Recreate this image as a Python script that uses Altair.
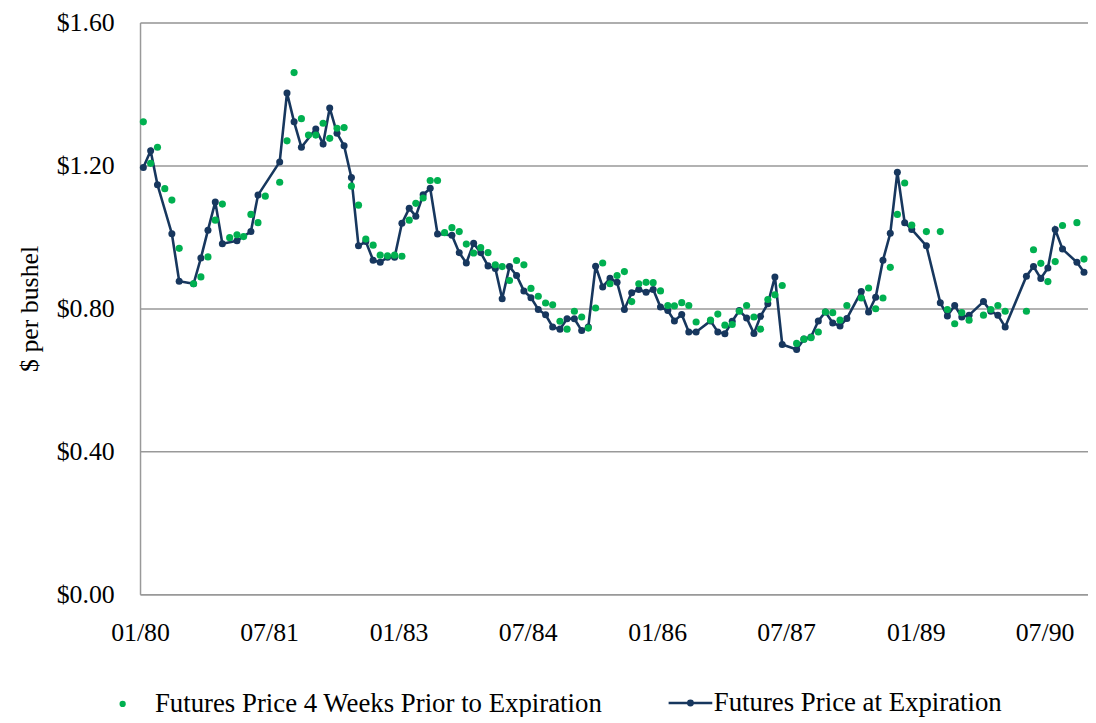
import altair as alt
import pandas as pd

# ---- data (month index: 0 = Jan 1980; each observation sits mid-month) ----
exp_label = "Futures Price at Expiration"
prior_label = "Futures Price 4 Weeks Prior to Expiration"

exp_months = [0, 1, 2, 4, 5, 7, 8, 9, 10, 11, 13, 15, 16, 19, 20, 21, 22, 24, 25, 26,
              27, 28, 29, 30, 31, 32, 33, 34, 35, 36, 37, 38, 39, 40, 41, 43, 44, 45, 46, 47,
              48, 49, 50, 51, 52, 53, 54, 55, 56, 57, 58, 59, 60, 61, 62, 63, 64, 65, 66, 67,
              68, 69, 70, 71, 72, 73, 74, 75, 76, 77, 79, 80, 81, 82, 83, 84, 85, 86, 87, 88,
              89, 91, 92, 93, 94, 95, 96, 97, 98, 100, 101, 102, 103, 104, 105, 106, 107, 109,
              111, 112, 113, 114, 115, 117, 118, 119, 120, 123, 124, 125, 126, 127, 128, 130, 131]
exp_price = [1.194, 1.241, 1.146, 1.009, 0.876, 0.869, 0.941, 1.019, 1.098, 0.981, 0.989, 1.015,
             1.117, 1.210, 1.403, 1.322, 1.251, 1.302, 1.260, 1.361,
             1.290, 1.255, 1.166, 0.975, 0.987, 0.935, 0.929, 0.943, 0.943, 1.038, 1.080, 1.058,
             1.118, 1.136, 1.008, 1.005, 0.956, 0.927, 0.982, 0.956,
             0.919, 0.912, 0.827, 0.917, 0.892, 0.849, 0.830, 0.797, 0.782, 0.748, 0.742, 0.771,
             0.771, 0.738, 0.748, 0.918, 0.860, 0.884, 0.873, 0.797,
             0.844, 0.853, 0.845, 0.853, 0.804, 0.794, 0.765, 0.783, 0.734, 0.734, 0.765, 0.734,
             0.729, 0.764, 0.794, 0.773, 0.730, 0.778, 0.813, 0.888,
             0.699, 0.685, 0.714, 0.720, 0.765, 0.790, 0.759, 0.751, 0.772, 0.847, 0.790, 0.831,
             0.935, 1.010, 1.181, 1.040, 1.021, 0.975,
             0.816, 0.779, 0.808, 0.776, 0.781, 0.819, 0.792, 0.781, 0.748, 0.890, 0.917, 0.884,
             0.913, 1.021, 0.966, 0.929, 0.901]

prior_months = [0, 1, 2, 3, 4, 5, 7, 8, 9, 10, 11, 12, 13, 14, 15, 16, 17, 19, 20, 21,
                22, 23, 24, 25, 26, 27, 28, 29, 30, 31, 32, 33, 34, 35, 36, 37, 38, 39, 40, 41,
                42, 43, 44, 45, 46, 47, 48, 49, 50, 51, 52, 53, 54, 55, 56, 57, 58, 59, 60, 61,
                62, 63, 64, 65, 66, 67, 68, 69, 70, 71, 72, 73, 74, 75, 76, 77, 79, 80, 81, 82,
                83, 84, 85, 86, 87, 88, 89, 91, 92, 93, 94, 95, 96, 97, 98, 100, 101, 102, 103,
                104, 105, 106, 107, 109, 111, 112, 113, 114, 115, 117, 118, 119, 120, 123, 124,
                125, 126, 127, 128, 130, 131]
prior_price = [1.322, 1.206, 1.251, 1.135, 1.103, 0.968, 0.869, 0.888, 0.944, 1.047, 1.092, 0.998,
               1.006, 1.001, 1.063, 1.040, 1.114, 1.153, 1.269, 1.460,
               1.331, 1.285, 1.285, 1.318, 1.276, 1.304, 1.306, 1.142, 1.089, 0.994, 0.977, 0.949,
               0.947, 0.949, 0.946, 1.047, 1.094, 1.109, 1.158, 1.158,
               1.012, 1.026, 1.015, 0.980, 0.955, 0.970, 0.956, 0.922, 0.917, 0.878, 0.934, 0.922,
               0.856, 0.834, 0.815, 0.810, 0.764, 0.742, 0.792, 0.776,
               0.745, 0.801, 0.927, 0.869, 0.892, 0.903, 0.819, 0.869, 0.873, 0.872, 0.849, 0.808,
               0.807, 0.816, 0.808, 0.762, 0.767, 0.784, 0.753, 0.755,
               0.792, 0.808, 0.776, 0.742, 0.825, 0.838, 0.864, 0.702, 0.714, 0.718, 0.734, 0.790,
               0.788, 0.767, 0.808, 0.829, 0.857, 0.799, 0.829,
               0.915, 1.063, 1.151, 1.033, 1.015, 1.015, 0.797, 0.757, 0.788, 0.767, 0.781, 0.797,
               0.808, 0.792, 0.792, 0.964,
               0.926, 0.875, 0.931, 1.032, 1.040, 0.938]

tick_dates = [(1980, 1), (1981, 7), (1983, 1), (1984, 7), (1986, 1), (1987, 7), (1989, 1), (1990, 7)]
y_ticks = [0, 0.4, 0.8, 1.2, 1.6]

NAVY = "#17375E"
GREEN = "#00B050"
GRID = "#999999"
FONT = "Liberation Serif"
FS = 26
LFS = 27


def to_date(m):
    return f"{1980 + m // 12}-{m % 12 + 1:02d}-15"


exp_df = pd.DataFrame({"date": [to_date(m) for m in exp_months],
                       "price": exp_price, "series": exp_label})
prior_df = pd.DataFrame({"date": [to_date(m) for m in prior_months],
                         "price": prior_price, "series": prior_label})

x_enc = alt.X(
    "date:T",
    scale=alt.Scale(type="utc", domain=[alt.DateTime(year=1980, month=1, date=1, utc=True),
                                        alt.DateTime(year=1991, month=1, date=1, utc=True)]),
    axis=alt.Axis(values=[alt.DateTime(year=y, month=m, date=1, utc=True) for y, m in tick_dates],
                  format="%m/%y", title=None, grid=False, ticks=False, labelPadding=26,
                  domainColor=GRID, domainWidth=1.5, labelFont=FONT, labelFontSize=FS,
                  labelColor="black", labelFlush=False),
)
y_enc = alt.Y(
    "price:Q",
    scale=alt.Scale(domain=[0, 1.6], nice=False),
    axis=alt.Axis(values=y_ticks, format="$.2f", title="$ per bushel", grid=True,
                  gridColor=GRID, gridWidth=1.5, ticks=False, labelPadding=26,
                  domainColor=GRID, domainWidth=1.5, labelFont=FONT, labelFontSize=FS,
                  labelColor="black", titleFont=FONT, titleFontSize=FS, titleFontWeight="normal",
                  titleColor="black", titleX=-111, titleY=288, titleAngle=270,
                  titleBaseline="middle", titleAlign="center"),
)

line = alt.Chart(exp_df).mark_line(color=NAVY, strokeWidth=2.6).encode(x=x_enc, y=y_enc)

navy_pts = alt.Chart(exp_df).mark_circle(size=50, opacity=1).encode(
    x=x_enc, y=y_enc,
    color=alt.Color("series:N", scale=alt.Scale(domain=[exp_label], range=[NAVY]),
                    legend=alt.Legend(title=None, orient="none", legendX=531, legendY=662,
                                      symbolType="M-1,0H1M-0.1,0A0.1,0.1,0,1,0,0.1,0A0.1,0.1,0,1,0,-0.1,0Z",
                                      symbolSize=1936, symbolStrokeColor=NAVY,
                                      symbolStrokeWidth=2.6, labelOffset=0, padding=0,
                                      labelFont=FONT, labelFontSize=LFS, labelColor="black",
                                      labelLimit=700)),
)

green_pts = alt.Chart(prior_df).mark_circle(size=52, opacity=1).encode(
    x=x_enc, y=y_enc,
    fill=alt.Fill("series:N", scale=alt.Scale(domain=[prior_label], range=[GREEN]),
                  legend=alt.Legend(title=None, orient="none", legendX=-31, legendY=673,
                                    symbolType="circle", symbolSize=40, symbolStrokeWidth=0,
                                    labelOffset=19, padding=0, labelFont=FONT,
                                    labelFontSize=LFS, labelColor="black", labelLimit=700)),
)

chart = alt.layer(line, navy_pts, green_pts).properties(
    width=955, height=576,
    autosize=alt.AutoSizeParams(type="none"),
    padding={"left": 133, "top": 12, "right": 0, "bottom": 121},
).configure_view(stroke=None).configure(background="white")

chart.save("out.html", embed_options={"renderer": "svg", "actions": False})
